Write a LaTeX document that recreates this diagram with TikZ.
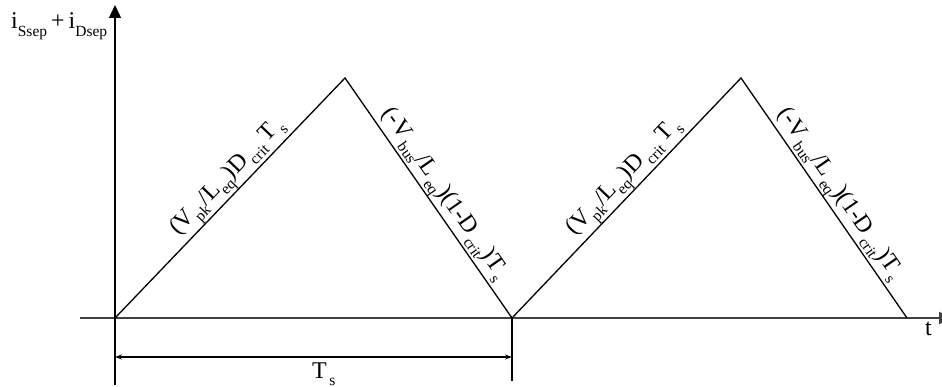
\documentclass[tikz,border=0pt]{standalone}
\usepackage{fontspec}
\setmainfont{Liberation Serif}
\usetikzlibrary{arrows.meta}
\newcommand{\sbs}[1]{\raisebox{-0.3em}{\fontsize{15.5}{16}\selectfont #1}}
\begin{document}
\begin{tikzpicture}[x=1pt,y=-1pt,
  wave/.style={line width=1.3pt, black},
  axis/.style={line width=1.5pt, black},
  xaxis/.style={line width=1.8pt, black!75},
  dim/.style={line width=1.1pt, black, {Stealth[length=7pt,width=5pt]}-{Stealth[length=7pt,width=5pt]}},
  lbl/.style={font=\fontsize{24}{26}\selectfont, inner sep=0pt}]
\useasboundingbox (0,0) rectangle (942,387);
\coordinate (O) at (115,318);
\coordinate (P1) at (345,78);
\coordinate (Q1) at (512,318);
\coordinate (P2) at (741,78);
\coordinate (Q2) at (907,318);
\coordinate (Ybot) at (115,385);
\coordinate (Ytop) at (115,5);
\coordinate (Xl) at (80,318);
\coordinate (Xr) at (952,318);
\coordinate (Tb) at (512,381);
\coordinate (Dl) at (115,357);
\coordinate (Dr) at (512,357);
% axes
\draw[xaxis, -{Triangle[length=13pt,width=12pt]}] (Xl) -- (Xr);
\draw[axis, -{Triangle[length=13pt,width=12pt]}] (Ybot) -- (Ytop);
\draw[axis] (Q1) -- (Tb);
% waveform
\draw[wave] (O)
  -- node[lbl, sloped, above, pos=0.54] (la1) {(V\sbs{pk}/L\sbs{eq})D\sbs{\,crit}\,T\sbs{\,s}} (P1)
  -- node[lbl, sloped, above, pos=0.52, yshift=-1pt] (lb1) {(-V\sbs{\,bus}/L\sbs{\,eq})(1-D\sbs{\,crit})T\sbs{\,s}} (Q1)
  -- node[lbl, sloped, above, pos=0.54] (la2) {(V\sbs{pk}/L\sbs{eq})D\sbs{\,crit}\,T\sbs{\,s}} (P2)
  -- node[lbl, sloped, above, pos=0.52, yshift=-1pt] (lb2) {(-V\sbs{\,bus}/L\sbs{\,eq})(1-D\sbs{\,crit})T\sbs{\,s}} (Q2);
% dimension
\draw[dim] (Dl) -- (Dr);
% labels
\node[lbl, anchor=base west] (ylab) at (11,29) {i\sbs{Ssep}\,+\,i\sbs{Dsep}};
\node[lbl, anchor=base west] (tlab) at (925,335) {t};
\node[lbl, anchor=base west] (Tslab) at (312,378) {T\sbs{\,s}};
\end{tikzpicture}
\end{document}
